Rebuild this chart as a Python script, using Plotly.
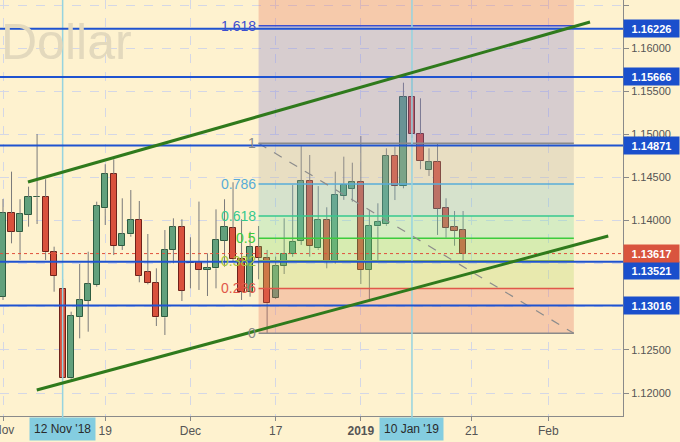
import plotly.graph_objects as go

# ---------------- data ----------------
dates = ["2018-11-01", "2018-11-02", "2018-11-05", "2018-11-06", "2018-11-07", "2018-11-08", "2018-11-09",
         "2018-11-12", "2018-11-13", "2018-11-14", "2018-11-15", "2018-11-16", "2018-11-19", "2018-11-20",
         "2018-11-21", "2018-11-22", "2018-11-23", "2018-11-26", "2018-11-27", "2018-11-28", "2018-11-29",
         "2018-11-30", "2018-12-03", "2018-12-04", "2018-12-05", "2018-12-06", "2018-12-07", "2018-12-10",
         "2018-12-11", "2018-12-12", "2018-12-13", "2018-12-14", "2018-12-17", "2018-12-18", "2018-12-19",
         "2018-12-20", "2018-12-21", "2018-12-24", "2018-12-26", "2018-12-27", "2018-12-28", "2018-12-31",
         "2019-01-02", "2019-01-03", "2019-01-04", "2019-01-07", "2019-01-08", "2019-01-09", "2019-01-10",
         "2019-01-11", "2019-01-14", "2019-01-15", "2019-01-16", "2019-01-17", "2019-01-18"]
opens = [1.13117, 1.14084, 1.13864, 1.14068, 1.14270, 1.14270, 1.13632, 1.13203, 1.12170, 1.12885,
         1.13071, 1.13253, 1.14142, 1.14537, 1.13705, 1.13840, 1.14007, 1.13403, 1.13279, 1.12878,
         1.13659, 1.13922, 1.13515, 1.13523, 1.13427, 1.13446, 1.13766, 1.13910, 1.13551, 1.13175,
         1.13690, 1.13562, 1.13100, 1.13473, 1.13612, 1.13766, 1.14462, 1.13678, 1.14007, 1.13523,
         1.14285, 1.14370, 1.14451, 1.13427, 1.13933, 1.13957, 1.14749, 1.14401, 1.15430, 1.15004,
         1.14586, 1.14683, 1.14142, 1.13922, 1.13891]
highs = [1.14250, 1.14567, 1.14247, 1.14393, 1.15004, 1.14479, 1.13697, 1.13319, 1.12943, 1.13496,
         1.13639, 1.14219, 1.14653, 1.14710, 1.14258, 1.14354, 1.14227, 1.13844, 1.13446, 1.13890,
         1.14026, 1.14015, 1.13806, 1.14220, 1.13620, 1.14130, 1.14247, 1.14444, 1.14015, 1.13871,
         1.13937, 1.13659, 1.13581, 1.14026, 1.14412, 1.14876, 1.14760, 1.14400, 1.14154, 1.14567,
         1.14741, 1.14671, 1.14981, 1.14123, 1.14200, 1.14838, 1.14857, 1.15599, 1.15666, 1.15418,
         1.14838, 1.14896, 1.14258, 1.14111, 1.14111]
lows = [1.13079, 1.13736, 1.13543, 1.13929, 1.13960, 1.13543, 1.13175, 1.12159, 1.12159, 1.12634,
        1.12711, 1.13233, 1.13949, 1.13600, 1.13659, 1.13813, 1.13284, 1.13260, 1.12777, 1.12673,
        1.13504, 1.13067, 1.13214, 1.13195, 1.13125, 1.13214, 1.13465, 1.13520, 1.13079, 1.13117,
        1.13319, 1.12692, 1.13090, 1.13380, 1.13580, 1.13717, 1.13581, 1.13660, 1.13446, 1.13500,
        1.14240, 1.14219, 1.13264, 1.13087, 1.13543, 1.13940, 1.14238, 1.14374, 1.14960, 1.14595,
        1.14517, 1.13833, 1.13801, 1.13708, 1.13543]
closes = [1.14084, 1.13871, 1.14073, 1.14270, 1.14272, 1.13632, 1.13357, 1.12170, 1.12893, 1.13075,
          1.13261, 1.14169, 1.14537, 1.13705, 1.13840, 1.14007, 1.13361, 1.13279, 1.12878, 1.13659,
          1.13922, 1.13186, 1.13510, 1.13427, 1.13450, 1.13775, 1.13929, 1.13551, 1.13175, 1.13690,
          1.13569, 1.13040, 1.13476, 1.13612, 1.13755, 1.14462, 1.13705, 1.14007, 1.13523, 1.14296,
          1.14412, 1.14451, 1.13427, 1.13937, 1.13980, 1.14749, 1.14401, 1.15430, 1.15000, 1.14694,
          1.14683, 1.14138, 1.13917, 1.13882, 1.13617]

# x-axis ticks (bar index positions) and labels
tick_pos = [0, 12, 22, 32, 42, 55, 64]
tick_text = ["", "19", "Dec", "17", "<b>2019</b>", "21", "Feb"]
edge_label = "Nov"          # label at bar 0, cut by the left edge
marked_pos = [7, 48]
marked_text = ["12 Nov '18", "10 Jan '19"]

# y-axis ticks (labels hidden under the price boxes are left blank)
ytick_vals = [1.120, 1.125, 1.130, 1.135, 1.140, 1.145, 1.150, 1.155, 1.160, 1.165]
ytick_text = ["1.12000", "1.12500", "", "", "1.14000", "1.14500", "1.15000", "1.15500", "1.16000", "1.16500"]

# horizontal levels
blue_levels = [1.16226, 1.15666, 1.14871, 1.13521, 1.13016]
last_price = 1.13617

# trend channel (bar index, price)
upper_line = [(2.93, 1.14447), (68.9, 1.16303)]
lower_line = [(3.96, 1.12035), (71.04, 1.13821)]

# fibonacci retracement
fib_x = [30, 67]
fib_p1, fib_p0 = 1.14896, 1.12692
fib_ratios = [0, 0.236, 0.382, 0.5, 0.618, 0.786, 1, 1.618, 2.618]
fib_line_colors = ["#8a8a8a", "#e0584a", "#a6c83a", "#3ccc3c", "#36c98e", "#58acd8", "#8a8a8a", "#3d4fd0", "#e0584a"]
fib_fill_colors = ["rgba(227,109,90,0.3)", "rgba(181,212,100,0.3)", "rgba(127,222,110,0.3)",
                   "rgba(121,222,170,0.3)", "rgba(121,189,200,0.3)", "rgba(181,175,167,0.3)",
                   "rgba(127,119,210,0.3)", "rgba(227,109,90,0.3)"]

# ---------------- figure ----------------
BG = "#fef2cf"
idx = list(range(len(dates)))
fig = go.Figure()

# wicks (split above / below bodies)
wx, wy = [], []
for i, o, h, l, c in zip(idx, opens, highs, lows, closes):
    top, bot = max(o, c), min(o, c)
    wx += [i, i, None, i, i, None]
    wy += [h, top, None, bot, l, None]
fig.add_trace(go.Scatter(x=wx, y=wy, mode="lines", line=dict(color="#7a7a7a", width=1),
                         hoverinfo="skip", showlegend=False))

# bodies
up = [c >= o for o, c in zip(opens, closes)]
fig.add_trace(go.Bar(
    x=idx,
    y=[max(abs(c - o), 0.00003) for o, c in zip(opens, closes)],
    base=[min(o, c) for o, c in zip(opens, closes)],
    width=0.72,
    marker=dict(color=["#62a07c" if u else "#d9513c" for u in up],
                line=dict(color=["#2e5c40" if u else "#6e221b" for u in up], width=1)),
    showlegend=False, hoverinfo="skip"))

shapes = []
def fp(r):
    return fib_p0 + r * (fib_p1 - fib_p0)

# fib fills
for k in range(len(fib_ratios) - 1):
    shapes.append(dict(type="rect", xref="x", yref="y", x0=fib_x[0], x1=fib_x[1],
                       y0=fp(fib_ratios[k]), y1=fp(fib_ratios[k + 1]),
                       fillcolor=fib_fill_colors[k], line=dict(width=0), layer="above"))
for r, col in zip(fib_ratios[:-1], fib_line_colors[:-1]):
    shapes.append(dict(type="line", xref="x", yref="y", x0=fib_x[0], x1=fib_x[1], y0=fp(r), y1=fp(r),
                       line=dict(color=col, width=1.5), layer="above"))
# fib diagonal
shapes.append(dict(type="line", xref="x", yref="y", x0=fib_x[0], x1=fib_x[1], y0=fib_p1, y1=fib_p0,
                   line=dict(color="#8c8c8c", width=1.2, dash="dash"), layer="above"))

# vertical marker lines
for p in marked_pos:
    shapes.append(dict(type="line", xref="x", yref="paper", x0=p, x1=p, y0=-0.03, y1=1,
                       line=dict(color="#96d4e0", width=1.5), layer="above"))

# last price dotted line
shapes.append(dict(type="line", xref="paper", yref="y", x0=0, x1=1, y0=last_price, y1=last_price,
                   line=dict(color="#e0503c", width=1, dash="dot"), layer="above"))
# blue levels
for lv in blue_levels:
    shapes.append(dict(type="line", xref="paper", yref="y", x0=0, x1=1, y0=lv, y1=lv,
                       line=dict(color="#1f53d0", width=2), layer="above"))
# trend channel
for ln in (upper_line, lower_line):
    shapes.append(dict(type="line", xref="x", yref="y", x0=ln[0][0], y0=ln[0][1], x1=ln[1][0], y1=ln[1][1],
                       line=dict(color="#2f7a1c", width=3), layer="above"))

annotations = []
# watermark
annotations.append(dict(text="Dollar", xref="paper", yref="paper", x=0, y=0.899, xanchor="left",
                        yanchor="middle", xshift=-1, showarrow=False,
                        font=dict(family="Liberation Sans", size=50, color="#e3d9bd")))
# fib labels
fib_label_text = ["0", "0.236", "0.382", "0.5", "0.618", "0.786", "1", "1.618"]
for r, t, col in zip(fib_ratios[:-1], fib_label_text, fib_line_colors[:-1]):
    annotations.append(dict(text=t, xref="x", yref="y", x=fib_x[0], y=fp(r), xanchor="right",
                            yanchor="middle", xshift=-1, showarrow=False,
                            font=dict(family="Liberation Sans", size=14, color=col)))
# price boxes
for lv in blue_levels:
    shift = -9 if lv == 1.13521 else 0
    annotations.append(dict(text="<b>%.5f</b>" % lv, xref="paper", yref="y", x=1, y=lv, xanchor="left",
                            yanchor="middle", yshift=shift, showarrow=False, bgcolor="#1a4fcc",
                            borderpad=2, width=51, height=13, align="center",
                            font=dict(family="Liberation Sans", size=11, color="white")))
annotations.append(dict(text="<b>%.5f</b>" % last_price, xref="paper", yref="y", x=1, y=last_price,
                        xanchor="left", yanchor="middle", showarrow=False, bgcolor="#d9543e",
                        borderpad=2, width=51, height=13, align="center",
                        font=dict(family="Liberation Sans", size=11, color="white")))
# highlighted x labels
for p, t in zip(marked_pos, marked_text):
    annotations.append(dict(text=t, xref="x", yref="paper", x=p, y=0, xanchor="center", yanchor="top",
                            yshift=-1, showarrow=False, bgcolor="#84cde0", borderpad=4,
                            font=dict(family="Liberation Sans", size=12, color="#2a2a2a")))
# edge label at bar 0
annotations.append(dict(text=edge_label, xref="x", yref="paper", x=tick_pos[0], y=0, xanchor="center",
                        yanchor="top", yshift=-5, showarrow=False,
                        font=dict(family="Liberation Sans", size=12, color="#555555")))

fig.update_layout(
    width=680, height=442,
    margin=dict(l=0, r=57, t=0, b=26),
    paper_bgcolor=BG, plot_bgcolor=BG,
    showlegend=False, bargap=0,
    shapes=shapes, annotations=annotations,
    xaxis=dict(range=[-0.352, 72.77], tickvals=tick_pos, ticktext=tick_text,
               showgrid=True, gridcolor="#d4d7e6", griddash="dash", gridwidth=1,
               zeroline=False, showline=True, linecolor="#8a8a8a", linewidth=1,
               ticks="outside", ticklen=4, tickcolor="#8a8a8a",
               tickfont=dict(family="Liberation Sans", size=12, color="#555555")),
    yaxis=dict(range=[1.117332, 1.165581], side="right",
               tickvals=ytick_vals, ticktext=ytick_text,
               showgrid=True, gridcolor="#d4d7e6", griddash="dash", gridwidth=1,
               zeroline=False, showline=True, linecolor="#8a8a8a", linewidth=1,
               ticks="outside", ticklen=5, tickcolor="#8a8a8a",
               tickfont=dict(family="Liberation Sans", size=11, color="#555555")),
)

fig.write_html("out.html", config={"displayModeBar": False},
               post_script="document.body.style.margin='0';document.body.style.padding='0';")
